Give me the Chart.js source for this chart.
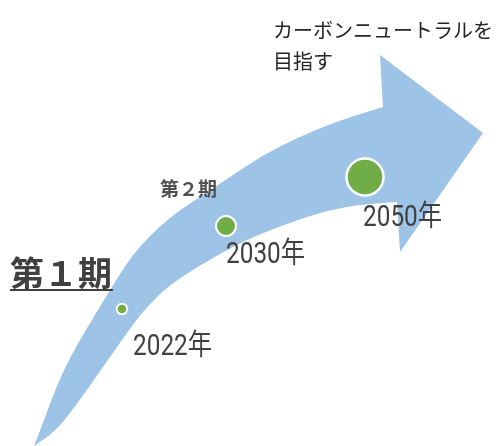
<!DOCTYPE html>
<html lang="ja">
<head>
<meta charset="utf-8">
<script src="https://cdn.jsdelivr.net/npm/chart.js@4.4.0/dist/chart.umd.min.js"></script>
<style>
  html, body { margin: 0; padding: 0; background: #fff; }
  #wrap { width: 496px; height: 446px; position: relative; }
</style>
</head>
<body>
<div id="wrap"><canvas id="roadmap"></canvas></div>
<script>
// milestones
const years = ['2022年', '2030年', '2050年'];
const yearX = [122, 226, 365];
const yearY = [309, 226, 177];
const bubbleR = [5.3, 10, 18.5];

// label anchors (left / vertical middle), in plot units
const labelX = [133, 226, 363];
const labelY = [348, 256, 219];

// arrow outline
const arrowUpper = [[34, 446], [43, 423], [55, 390], [70, 357], [90, 323], [110, 290], [125, 266], [140, 246],
    [160, 226], [180, 210], [200, 197], [230, 177], [263, 155], [297, 138], [330, 124], [363, 113], [383, 107]];
const arrowHead = [[380, 55], [483, 133], [400, 252], [397, 202]];
const arrowLower = [[397, 202], [363, 204], [330, 210], [297, 220], [263, 233], [240, 243], [200, 265], [167, 287],
    [150, 304], [136, 320], [103, 367], [80, 400], [57, 430], [34, 446]];

const goalLines = ['カーボンニュートラルを', '目指す'];

const BLUE = '#9DC3E6';
const GREEN = '#70AD47';
const TEXT = '#404040';

function smoothTo(ctx, pts) {
    for (let i = 1; i < pts.length - 1; i++) {
        const mx = (pts[i][0] + pts[i + 1][0]) / 2;
        const my = (pts[i][1] + pts[i + 1][1]) / 2;
        ctx.quadraticCurveTo(pts[i][0], pts[i][1], mx, my);
    }
    const last = pts[pts.length - 1];
    ctx.lineTo(last[0], last[1]);
}

const arrowPlugin = {
    id: 'arrow',
    beforeDatasetsDraw(chart) {
        const { ctx, scales: { x, y } } = chart;
        const px = p => [x.getPixelForValue(p[0]), y.getPixelForValue(p[1])];
        const up = arrowUpper.map(px);
        const head = arrowHead.map(px);
        const low = arrowLower.map(px);
        ctx.save();
        ctx.beginPath();
        ctx.moveTo(up[0][0], up[0][1]);
        smoothTo(ctx, up);
        head.forEach(p => ctx.lineTo(p[0], p[1]));
        smoothTo(ctx, low);
        ctx.closePath();
        ctx.fillStyle = BLUE;
        ctx.fill();
        ctx.restore();
    }
};

const textPlugin = {
    id: 'texts',
    afterDatasetsDraw(chart) {
        const { ctx, scales: { x, y } } = chart;
        ctx.save();
        ctx.textBaseline = 'middle';
        ctx.textAlign = 'left';

        // year labels (narrow figures)
        ctx.fillStyle = TEXT;
        ctx.font = '29px Roboto, "Noto Sans CJK JP"';
        years.forEach((t, i) => {
            ctx.save();
            ctx.translate(x.getPixelForValue(labelX[i]), y.getPixelForValue(labelY[i]));
            ctx.scale(0.84, 1);
            ctx.fillText(t, 0, 0);
            ctx.restore();
        });

        // goal
        ctx.fillStyle = '#262626';
        ctx.font = '20px "Noto Sans CJK JP"';
        ctx.fillText(goalLines[0], x.getPixelForValue(273), y.getPixelForValue(30));
        ctx.fillText(goalLines[1], x.getPixelForValue(273), y.getPixelForValue(61));

        // phases
        ctx.fillStyle = '#505050';
        ctx.font = 'bold 19px "Noto Sans CJK JP"';
        ctx.fillText('第２期', x.getPixelForValue(160), y.getPixelForValue(189));

        ctx.fillStyle = TEXT;
        ctx.font = 'bold 34px "Noto Sans CJK JP"';
        ctx.fillText('第１期', x.getPixelForValue(10), y.getPixelForValue(273));
        ctx.fillRect(x.getPixelForValue(10), y.getPixelForValue(289), 103, 2);
        ctx.restore();
    }
};

new Chart(document.getElementById('roadmap'), {
    type: 'bubble',
    data: {
        datasets: [{
            label: 'マイルストーン',
            data: years.map((t, i) => ({ x: yearX[i], y: yearY[i], r: bubbleR[i] })),
            backgroundColor: GREEN,
            borderColor: '#ffffff',
            borderWidth: [2, 2, 2.5],
            clip: false
        }]
    },
    options: {
        responsive: true,
        maintainAspectRatio: false,
        animation: false,
        events: [],
        layout: { padding: 0, autoPadding: false },
        plugins: {
            legend: { display: false },
            tooltip: { enabled: false }
        },
        scales: {
            x: { type: 'linear', min: 0, max: 496, display: false },
            y: { type: 'linear', min: 0, max: 446, reverse: true, display: false }
        }
    },
    plugins: [arrowPlugin, textPlugin]
});
</script>
</body>
</html>
